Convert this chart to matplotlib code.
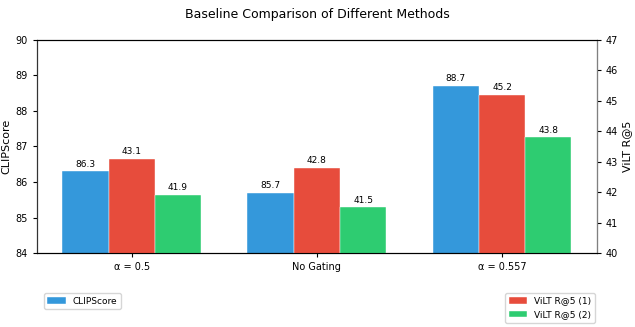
import numpy as np
import matplotlib.pyplot as plt

methods = ["α = 0.5", "No Gating", "α = 0.557"]
clipscore = [86.3, 85.7, 88.7]
vilt_r5_1 = [43.1, 42.8, 45.2]
vilt_r5_2 = [41.9, 41.5, 43.8]

def main():
    fig = plt.figure(figsize=(6.35, 3.27), dpi=100)
    ax = fig.add_axes([0.058, 0.226, 0.882, 0.652])
    ax2 = ax.twinx()

    x = np.arange(len(methods))
    w = 0.25

    b1 = ax.bar(x - w, clipscore, w, color="#3498db", edgecolor="white",
                linewidth=0.3, label="CLIPScore")
    b2 = ax2.bar(x, vilt_r5_1, w, color="#e74c3c", edgecolor="white",
                 linewidth=0.3, label="ViLT R@5 (1)")
    b3 = ax2.bar(x + w, vilt_r5_2, w, color="#2ecc71", edgecolor="white",
                 linewidth=0.3, label="ViLT R@5 (2)")

    ax.set_ylim(84, 90)
    ax2.set_ylim(40, 47)
    ax.set_xticks(x)
    ax.set_xticklabels(methods, fontsize=7)
    ax.tick_params(axis="y", labelsize=7, length=3)
    ax.tick_params(axis="x", length=3)
    ax2.tick_params(axis="y", labelsize=7, length=3)
    ax.set_ylabel("CLIPScore", fontsize=8, labelpad=3)
    ax2.set_ylabel("ViLT R@5", fontsize=8, labelpad=3)
    ax2.spines["right"].set_color("gray")
    ax2.spines["left"].set_color("#333333")

    for bars, ax_ in ((b1, ax), (b2, ax2), (b3, ax2)):
        for bar in bars:
            h = bar.get_height()
            ax_.annotate("{:.1f}".format(h),
                         (bar.get_x() + bar.get_width() / 2, h),
                         xytext=(0, 2), textcoords="offset points",
                         ha="center", va="bottom", fontsize=6.5)

    fig.suptitle("Baseline Comparison of Different Methods", fontsize=9,
                 y=0.975)
    fig.legend(handles=[b1], loc="upper left", fontsize=6.5,
               bbox_to_anchor=(0.062, 0.118))
    fig.legend(handles=[b2, b3], loc="upper right", fontsize=6.5,
               bbox_to_anchor=(0.944, 0.118))

    fig.savefig("out.png", dpi=100)

if __name__ == "__main__":
    main()
